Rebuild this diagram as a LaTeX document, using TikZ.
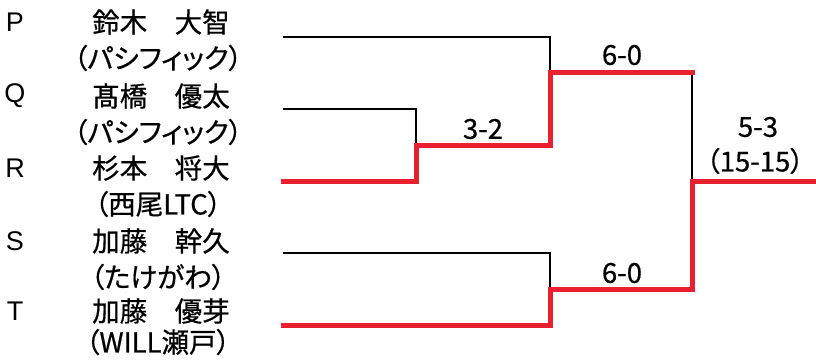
\documentclass[tikz,border=0pt]{standalone}
\usepackage{fontspec}
\setmainfont{Liberation Sans}
\newfontfamily\jp[RawFeature=+palt, FakeBold=0.6]{Noto Sans CJK JP}
\definecolor{winred}{RGB}{232,32,48}
\begin{document}
\begin{tikzpicture}[x=1pt,y=-1pt,
  seed/.style={font=\fontsize{27}{29}\selectfont, anchor=center, inner sep=0pt},
  who/.style={font=\jp\fontsize{27.5}{29}\selectfont, anchor=center, inner sep=0pt},
  score/.style={font=\jp\fontsize{27.5}{29}\selectfont, anchor=center, inner sep=0pt},
  loss/.style={draw=black, line width=1.4pt},
  win/.style={draw=winred, line width=5pt, line cap=rect}]
\useasboundingbox (0,0) rectangle (816,360);
% seeds
\node[seed] (sp) at (15,22) {P};
\node[seed] (sq) at (15,96) {Q};
\node[seed] (sr) at (15,168) {R};
\node[seed] (ss) at (15,241) {S};
\node[seed] (st) at (15,311) {T};
% names
\node[who] (np) at (161,22) {鈴木　大智};
\node[who] (ap) at (158,58) {（パシフィック）};
\node[who] (nq) at (161,96) {髙橋　優太};
\node[who] (aq) at (158,132) {（パシフィック）};
\node[who] (nr) at (161,168) {杉本　将大};
\node[who] (ar) at (158,204) {（西尾LTC）};
\node[who] (ns) at (161,241) {加藤　幹久};
\node[who] (as) at (158,277) {（たけがわ）};
\node[who] (nt) at (161,311) {加藤　優芽};
\node[who] (at) at (158,342) {（WILL瀬戸）};
% bracket points
\coordinate (p0) at (283,37);
\coordinate (p1) at (550,37);
\coordinate (q0) at (283,109);
\coordinate (q1) at (416,109);
\coordinate (r0) at (283,181);
\coordinate (r1) at (416,181);
\coordinate (qr) at (416,145);
\coordinate (qr1) at (550,145);
\coordinate (pqr) at (550,72);
\coordinate (pqr1) at (692,72);
\coordinate (s0) at (283,253);
\coordinate (s1) at (550,253);
\coordinate (t0) at (283,325);
\coordinate (t1) at (550,325);
\coordinate (st) at (550,289);
\coordinate (st1) at (692,289);
\coordinate (fin) at (692,181);
\coordinate (fin1) at (816,181);
% losing lines
\draw[loss] (p0) -- (p1) -- (pqr);
\draw[loss] (q0) -- (q1) -- (qr);
\draw[loss] (s0) -- (s1) -- (st);
\draw[loss] (pqr1) -- (fin);
% winning lines
\draw[win] (r0) -- (r1) -- (qr) -- (qr1) -- (pqr) -- (pqr1);
\draw[win] (t0) -- (t1) -- (st) -- (st1) -- (fin) -- (fin1);
% scores
\node[score] (s32) at (483,129) {3-2};
\node[score] (s60a) at (622,55) {6-0};
\node[score] (s60b) at (622,273) {6-0};
\node[score] (s53) at (758,127) {5-3};
\node[score] (s1515) at (755,161) {（15-15）};
\end{tikzpicture}
\end{document}
